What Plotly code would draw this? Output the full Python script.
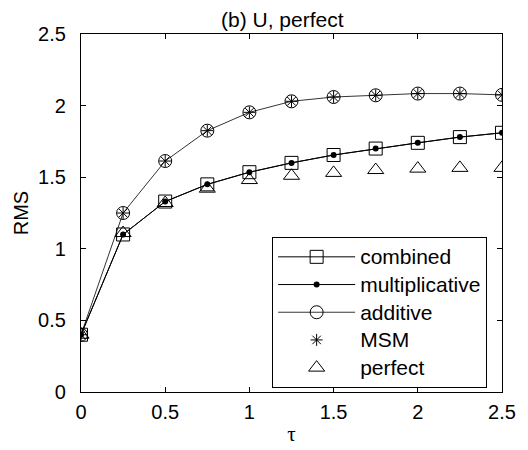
import plotly.graph_objects as go

tau = [0, 0.25, 0.5, 0.75, 1.0, 1.25, 1.5, 1.75, 2.0, 2.25, 2.5]
combined = [0.40, 1.10, 1.33, 1.45, 1.535, 1.60, 1.655, 1.70, 1.74, 1.78, 1.81]
multiplicative = [0.40, 1.10, 1.33, 1.45, 1.535, 1.60, 1.655, 1.70, 1.74, 1.78, 1.81]
additive = [0.40, 1.25, 1.613, 1.825, 1.953, 2.03, 2.06, 2.072, 2.084, 2.084, 2.075]
msm = [0.40, 1.25, 1.613, 1.825, 1.953, 2.03, 2.06, 2.072, 2.084, 2.084, 2.075]
perfect = [0.40, 1.11, 1.32, 1.42, 1.48, 1.51, 1.53, 1.55, 1.56, 1.565, 1.565]
series_names = ["combined", "multiplicative", "additive", "MSM", "perfect"]

tick_vals = [0, 0.5, 1, 1.5, 2, 2.5]
tick_text = ["0", "0.5", "1", "1.5", "2", "2.5"]

FONT = "Liberation Sans, Arial, Helvetica, sans-serif"
SERIF = "Liberation Serif, Times New Roman, serif"
BLACK = "black"


def lbl(s):
    return "<span style='font-size:21px'>" + s + "</span>"


fig = go.Figure()
fig.add_trace(go.Scatter(
    x=tau, y=combined, name=lbl(series_names[0]), mode="lines+markers", legendgroup="a",
    line=dict(color=BLACK, width=1),
    marker=dict(symbol="square-open", size=13, color=BLACK, line=dict(width=1, color=BLACK))))
fig.add_trace(go.Scatter(
    x=tau, y=multiplicative, name=lbl(series_names[1]), mode="lines+markers", legendgroup="b",
    line=dict(color=BLACK, width=1),
    marker=dict(symbol="circle", size=6, color=BLACK)))
fig.add_trace(go.Scatter(
    x=tau, y=additive, name=lbl(series_names[2]), mode="lines+markers", legendgroup="c",
    line=dict(color=BLACK, width=0.8),
    marker=dict(symbol="circle-open", size=13, color=BLACK, line=dict(width=1, color=BLACK))))
fig.add_trace(go.Scatter(
    x=tau, y=msm, name=lbl(series_names[3]), mode="markers", legendgroup="d",
    marker=dict(symbol="asterisk-open", size=10, color=BLACK, line=dict(width=1, color=BLACK))))
fig.add_trace(go.Scatter(
    x=tau, y=perfect, name=lbl(series_names[4]), mode="markers", legendgroup="e",
    marker=dict(symbol="triangle-up-open", size=14, color=BLACK, line=dict(width=1, color=BLACK))))

axis_common = dict(
    showgrid=False, zeroline=False, showline=True, linecolor=BLACK, linewidth=1.3,
    mirror="ticks", ticks="inside", ticklen=5, tickcolor=BLACK, tickwidth=1,
    tickvals=tick_vals, ticktext=tick_text, automargin=False,
    tickfont=dict(family=FONT, size=20, color=BLACK),
)

fig.update_layout(
    width=528, height=450,
    margin=dict(l=81, r=26, t=34, b=58, autoexpand=False),
    paper_bgcolor="white", plot_bgcolor="white",
    font=dict(family=FONT, color=BLACK),
    showlegend=True,
    legend=dict(
        x=0.454, y=0.433, xanchor="left", yanchor="top",
        bgcolor="white", bordercolor=BLACK, borderwidth=1,
        font=dict(family=FONT, size=19, color=BLACK),
        tracegroupgap=0, itemwidth=77,
    ),
    xaxis=dict(range=[0, 2.5], ticklabelstandoff=2,
               title=dict(text="τ", font=dict(family=SERIF, size=21), standoff=4), **axis_common),
    yaxis=dict(range=[0, 2.5], ticklabelstandoff=10,
               title=dict(text="RMS", font=dict(family=FONT, size=20), standoff=4), **axis_common),
    annotations=[dict(text="(b) U, perfect", xref="paper", yref="paper", x=0.478, y=1.0,
                      xanchor="center", yanchor="bottom", yshift=1, showarrow=False,
                      font=dict(family=FONT, size=21, color=BLACK))],
)

fig.write_html("out.html")
